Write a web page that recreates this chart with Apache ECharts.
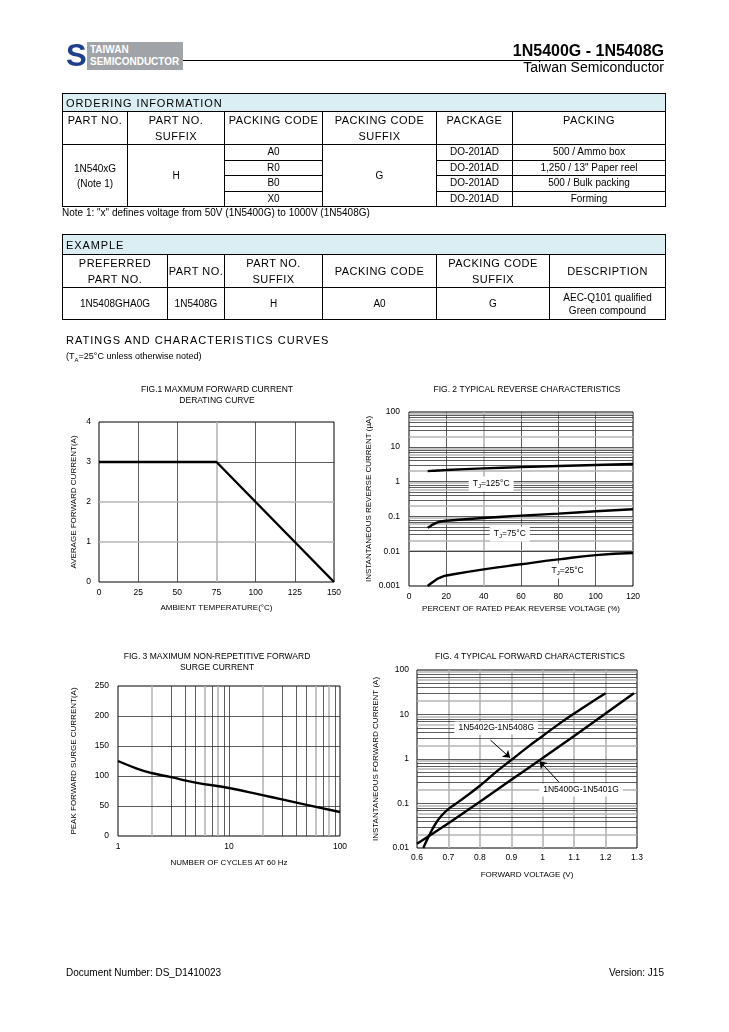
<!DOCTYPE html>
<html><head><meta charset="utf-8">
<script src="https://cdn.jsdelivr.net/npm/echarts@6/dist/echarts.min.js"></script>
<style>
body{margin:0;background:#fff;font-family:"Liberation Sans",Arial,sans-serif;color:#000}
#page{position:relative;width:729px;height:1032px;overflow:hidden;background:#fff}
.abs{position:absolute;white-space:nowrap}
#chart{position:absolute;left:0;top:0;width:729px;height:1032px}
table{border-collapse:collapse;position:absolute;table-layout:fixed}
td{border:1px solid #000;text-align:center;padding:0;font-size:10px;line-height:12px}
td.band{background:#daeef3;text-align:left;padding-left:3px;font-size:11px;letter-spacing:0.9px}
td.hd{font-size:11px;letter-spacing:0.5px;line-height:16px}
</style></head>
<body><div id="page">
<div id="chart"></div>
<!-- header -->
<div class="abs" style="left:66px;top:42px;width:19px;height:27px;color:#1f3f8f;font:bold 31px/27px 'Liberation Sans',Arial;text-align:center">S</div>
<div class="abs" style="left:87px;top:42px;width:96px;height:28px;background:#a0a3a7;color:#fff;font:bold 10px/12px 'Liberation Sans',Arial;padding-left:3px;box-sizing:border-box;padding-top:2px">TAIWAN<br>SEMICONDUCTOR</div>
<div class="abs" style="left:183px;top:60px;width:481px;height:1px;background:#000"></div>
<div class="abs" style="right:65px;top:42px;font:bold 16px/18px 'Liberation Sans',Arial">1N5400G - 1N5408G</div>
<div class="abs" style="right:65px;top:59px;font:14px/16px 'Liberation Sans',Arial">Taiwan Semiconductor</div>

<table style="left:62px;top:93px;width:603px">
<colgroup><col style="width:65px"><col style="width:97px"><col style="width:98px"><col style="width:114px"><col style="width:76px"><col style="width:153px"></colgroup>
<tr style="height:18px"><td colspan="6" class="band">ORDERING INFORMATION</td></tr>
<tr style="height:32px"><td class="hd" style="vertical-align:top">PART NO.</td><td class="hd" style="vertical-align:top">PART NO.<br>SUFFIX</td><td class="hd" style="vertical-align:top">PACKING CODE</td><td class="hd" style="vertical-align:top">PACKING CODE<br>SUFFIX</td><td class="hd" style="vertical-align:top">PACKAGE</td><td class="hd" style="vertical-align:top">PACKING</td></tr>
<tr style="height:15.5px"><td rowspan="4" style="line-height:15px">1N540xG<br>(Note 1)</td><td rowspan="4">H</td><td>A0</td><td rowspan="4">G</td><td>DO-201AD</td><td>500 / Ammo box</td></tr>
<tr style="height:15.5px"><td>R0</td><td>DO-201AD</td><td>1,250 / 13" Paper reel</td></tr>
<tr style="height:15.5px"><td>B0</td><td>DO-201AD</td><td>500 / Bulk packing</td></tr>
<tr style="height:15.5px"><td>X0</td><td>DO-201AD</td><td>Forming</td></tr>
</table>
<div class="abs" style="left:62px;top:207px;font:10px/12px 'Liberation Sans',Arial">Note 1: "x" defines voltage from 50V (1N5400G) to 1000V (1N5408G)</div>

<table style="left:62px;top:234px;width:603px">
<colgroup><col style="width:105px"><col style="width:57px"><col style="width:98px"><col style="width:114px"><col style="width:113px"><col style="width:116px"></colgroup>
<tr style="height:20px"><td colspan="6" class="band">EXAMPLE</td></tr>
<tr style="height:31px"><td class="hd">PREFERRED<br>PART NO.</td><td class="hd">PART NO.</td><td class="hd">PART NO.<br>SUFFIX</td><td class="hd">PACKING CODE</td><td class="hd">PACKING CODE<br>SUFFIX</td><td class="hd">DESCRIPTION</td></tr>
<tr style="height:32px"><td>1N5408GHA0G</td><td>1N5408G</td><td>H</td><td>A0</td><td>G</td><td style="line-height:13px">AEC-Q101 qualified<br>Green compound</td></tr>
</table>

<div class="abs" style="left:66px;top:333px;font:11px/14px 'Liberation Sans',Arial;letter-spacing:1px">RATINGS AND CHARACTERISTICS CURVES</div>
<div class="abs" style="left:66px;top:350px;font:9px/12px 'Liberation Sans',Arial">(T<sub style="font-size:6px">A</sub>=25°C unless otherwise noted)</div>

<div class="abs" style="left:66px;top:967px;font:10px/12px 'Liberation Sans',Arial">Document Number: DS_D1410023</div>
<div class="abs" style="right:65px;top:967px;font:10px/12px 'Liberation Sans',Arial">Version: J15</div>
</div>
<script>
// ---------- data ----------
const fig1Temp = [0, 75, 150];
const fig1Current = [3, 3, 0];

const fig2Voltage = [10, 12, 14, 16, 18, 20, 40, 60, 80, 100, 120];
const fig2Tj125 = [2.0, 2.03, 2.06, 2.09, 2.12, 2.15, 2.4, 2.6, 2.8, 3.0, 3.2];
const fig2Tj75 = [0.047, 0.055, 0.063, 0.069, 0.073, 0.075, 0.09, 0.105, 0.12, 0.14, 0.16];
const fig2Tj25 = [0.001, 0.00122, 0.00145, 0.00168, 0.00187, 0.002, 0.003, 0.0042, 0.0058, 0.0077, 0.0089];

const fig3Cycles = [1, 1.5, 2, 3, 5, 10, 20, 30, 50, 100];
const fig3Surge = [125, 112, 105, 98, 89, 80, 68, 61, 52, 40];

const fig4VoltA = [0.62, 0.64, 0.66, 0.68, 0.70, 0.72, 0.75, 0.8, 0.85, 0.9, 0.95, 1.0, 1.05, 1.1, 1.15, 1.2];
const fig4CurrA = [0.01, 0.02, 0.036, 0.055, 0.075, 0.095, 0.135, 0.25, 0.5, 0.95, 1.8, 3.3, 6, 10.5, 18, 30];
const fig4VoltB = [0.6, 0.7, 0.8, 0.9, 1.0, 1.1, 1.2, 1.29];
const fig4CurrB = [0.0125, 0.036, 0.11, 0.34, 1.05, 3.3, 10.5, 30];

const fig1XTicks = [0, 25, 50, 75, 100, 125, 150];
const fig2YTickLabels = ['0.001', '0.01', '0.1', '1', '10', '100'];
const fig3XTickLabels = ['1', '10', '100'];

// ---------- styles ----------
const FONT = "'Liberation Sans', Arial, sans-serif";
const DARK = {color: '#333', width: 0.8, type: 'solid'};
const GRAY = {color: '#b5b5b5', width: 1.6, type: 'solid'};
const CURVE = {color: '#000', width: 2.4};
const minorPattern = {2: GRAY, 3: DARK, 4: DARK, 5: DARK, 6: GRAY, 7: DARK, 8: DARK, 9: GRAY};

function lines(key, vals, style) { return vals.map(v => ({[key]: v, lineStyle: style})); }
function logMinor(key, decades) {
  const out = [];
  decades.forEach(d => {
    for (let m = 2; m <= 9; m++) out.push({[key]: +(d * m).toPrecision(3), lineStyle: minorPattern[m]});
    if (d !== decades[0]) out.push({[key]: d, lineStyle: DARK});
  });
  return out;
}
function gridMark(data) {
  return {silent: true, symbol: 'none', z: 1, animation: false, label: {show: false}, emphasis: {disabled: true}, data: data};
}
function pair(xs, ys) { return xs.map((x, i) => [x, ys[i]]); }

const axLabel = (margin) => ({fontSize: 8.5, color: '#000', fontFamily: FONT, margin: margin});
const nameStyle = {fontSize: 8, color: '#000', fontFamily: FONT};
const base = {axisLine: {show: false}, axisTick: {show: false}, splitLine: {show: false}};
const gridStyle = {show: true, borderColor: '#000', borderWidth: 1, backgroundColor: '#fff', containLabel: false};

const labelRich = {s: {fontSize: 6, verticalAlign: 'bottom', lineHeight: 11, padding: [4, 0, 0, 0]}};
function tag(coord, text) {
  return {coord: coord, symbolSize: 0, label: {show: true, position: 'inside', formatter: text, color: '#000', fontSize: 8.5, fontFamily: FONT, backgroundColor: '#fff', padding: [2, 4], rich: labelRich}};
}

const chart = echarts.init(document.getElementById('chart'), null, {renderer: 'canvas'});
const titleText = (x, y, t) => ({type: 'text', x: x, y: y, style: {text: t, fill: '#000', font: "8.5px " + FONT, textAlign: 'center', textVerticalAlign: 'middle'}});

chart.setOption({
  animation: false,
  backgroundColor: 'transparent',
  graphic: [
    titleText(217, 390, 'FIG.1 MAXMUM FORWARD CURRENT'),
    titleText(217, 401, 'DERATING CURVE'),
    titleText(527, 390, 'FIG. 2 TYPICAL REVERSE CHARACTERISTICS'),
    titleText(217, 657, 'FIG. 3 MAXIMUM NON-REPETITIVE FORWARD'),
    titleText(217, 668, 'SURGE CURRENT'),
    titleText(530, 657, 'FIG. 4 TYPICAL FORWARD CHARACTERISTICS')
  ],
  grid: [
    Object.assign({left: 99, top: 422, width: 235, height: 160}, gridStyle),
    Object.assign({left: 409, top: 412, width: 224, height: 174}, gridStyle),
    Object.assign({left: 118, top: 686, width: 222, height: 150}, gridStyle),
    Object.assign({left: 417, top: 670, width: 220, height: 178}, gridStyle)
  ],
  xAxis: [
    Object.assign({gridIndex: 0, type: 'value', min: fig1XTicks[0], max: fig1XTicks[fig1XTicks.length - 1], interval: 25,
      axisLabel: axLabel(6), name: 'AMBIENT TEMPERATURE(°C)', nameLocation: 'middle', nameGap: 22, nameTextStyle: nameStyle}, base),
    Object.assign({gridIndex: 1, type: 'value', min: 0, max: 120, interval: 20,
      axisLabel: axLabel(6), name: 'PERCENT OF RATED PEAK REVERSE VOLTAGE (%)', nameLocation: 'middle', nameGap: 19, nameTextStyle: nameStyle}, base),
    Object.assign({gridIndex: 2, type: 'log', logBase: 10, min: 1, max: 100,
      axisLabel: Object.assign(axLabel(6), {formatter: v => fig3XTickLabels[Math.round(Math.log10(v))]}),
      name: 'NUMBER OF CYCLES AT 60 Hz', nameLocation: 'middle', nameGap: 23, nameTextStyle: nameStyle}, base),
    Object.assign({gridIndex: 3, type: 'value', min: 0.6, max: 1.3, interval: 0.1,
      axisLabel: Object.assign(axLabel(5), {formatter: v => String(+v.toFixed(1))}),
      name: 'FORWARD VOLTAGE (V)', nameLocation: 'middle', nameGap: 23, nameTextStyle: nameStyle}, base)
  ],
  yAxis: [
    Object.assign({gridIndex: 0, type: 'value', min: 0, max: 4, interval: 1,
      axisLabel: axLabel(8), name: 'AVERAGE FORWARD CURRENT(A)', nameLocation: 'middle', nameGap: 21, nameTextStyle: nameStyle}, base),
    Object.assign({gridIndex: 1, type: 'log', logBase: 10, min: 0.001, max: 100,
      axisLabel: Object.assign(axLabel(9), {formatter: v => fig2YTickLabels[Math.round(Math.log10(v)) + 3]}),
      name: 'INSTANTANEOUS REVERSE CURRENT (µA)', nameLocation: 'middle', nameGap: 36, nameTextStyle: nameStyle}, base),
    Object.assign({gridIndex: 2, type: 'value', min: 0, max: 250, interval: 50,
      axisLabel: axLabel(9), name: 'PEAK FORWARD SURGE CURRENT(A)', nameLocation: 'middle', nameGap: 40, nameTextStyle: nameStyle}, base),
    Object.assign({gridIndex: 3, type: 'log', logBase: 10, min: 0.01, max: 100,
      axisLabel: Object.assign(axLabel(8), {formatter: v => String(+v.toPrecision(2))}),
      name: 'INSTANTANEOUS FORWARD CURRENT (A)', nameLocation: 'middle', nameGap: 37, nameTextStyle: nameStyle}, base)
  ],
  series: [
    // FIG 1
    {type: 'line', xAxisIndex: 0, yAxisIndex: 0, data: pair(fig1Temp, fig1Current), symbol: 'none', lineStyle: CURVE, z: 3,
      markLine: gridMark([].concat(lines('xAxis', [25, 50, 100, 125], DARK), lines('xAxis', [75], GRAY),
        lines('yAxis', [3], DARK), lines('yAxis', [1, 2], GRAY)))},
    // FIG 2
    {type: 'line', xAxisIndex: 1, yAxisIndex: 1, data: pair(fig2Voltage, fig2Tj125), symbol: 'none', smooth: true, lineStyle: CURVE, z: 3,
      markLine: gridMark([].concat(lines('xAxis', [20, 60, 80, 100], DARK), lines('xAxis', [40], GRAY),
        logMinor('yAxis', [0.001, 0.01, 0.1, 1, 10]))),
      markPoint: {z: 6, data: [tag([44, 0.86], 'T{s|J}=125°C')]}},
    {type: 'line', xAxisIndex: 1, yAxisIndex: 1, data: pair(fig2Voltage, fig2Tj75), symbol: 'none', smooth: true, lineStyle: CURVE, z: 3,
      markPoint: {z: 6, data: [tag([54, 0.031], 'T{s|J}=75°C')]}},
    {type: 'line', xAxisIndex: 1, yAxisIndex: 1, data: pair(fig2Voltage, fig2Tj25), symbol: 'none', smooth: true, lineStyle: CURVE, z: 3,
      markPoint: {z: 6, data: [tag([85, 0.0027], 'T{s|J}=25°C')]}},
    // FIG 3
    {type: 'line', xAxisIndex: 2, yAxisIndex: 2, data: pair(fig3Cycles, fig3Surge), symbol: 'none', smooth: true, lineStyle: CURVE, z: 3,
      markLine: gridMark([].concat(
        lines('xAxis', [3, 4, 5, 7, 9, 10, 30, 40, 50, 70, 90], DARK),
        lines('xAxis', [2, 6, 8, 20, 60, 80], GRAY),
        lines('yAxis', [50, 100, 150, 200], DARK)))},
    // FIG 4
    {type: 'line', xAxisIndex: 3, yAxisIndex: 3, data: pair(fig4VoltA, fig4CurrA), symbol: 'none', smooth: true, lineStyle: CURVE, z: 3,
      markLine: gridMark([].concat(lines('xAxis', [0.7, 0.8, 0.9, 1.0, 1.1, 1.2], GRAY),
        logMinor('yAxis', [0.01, 0.1, 1, 10]))),
      markPoint: {z: 6, data: [tag([0.852, 5.0], '1N5402G-1N5408G')]}},
    {type: 'line', xAxisIndex: 3, yAxisIndex: 3, data: pair(fig4VoltB, fig4CurrB), symbol: 'none', smooth: true, lineStyle: CURVE, z: 3,
      markPoint: {z: 6, data: [tag([1.122, 0.2], '1N5400G-1N5401G')]},
      markLine: {silent: true, z: 7, symbol: ['none', 'arrow'], symbolSize: 7, label: {show: false}, lineStyle: {color: '#000', width: 1, type: 'solid'},
        data: [[{coord: [0.834, 2.65]}, {coord: [0.8965, 1.06]}], [{coord: [1.051, 0.306]}, {coord: [0.99, 0.895]}]]}}
  ]
});
</script>
</body></html>
